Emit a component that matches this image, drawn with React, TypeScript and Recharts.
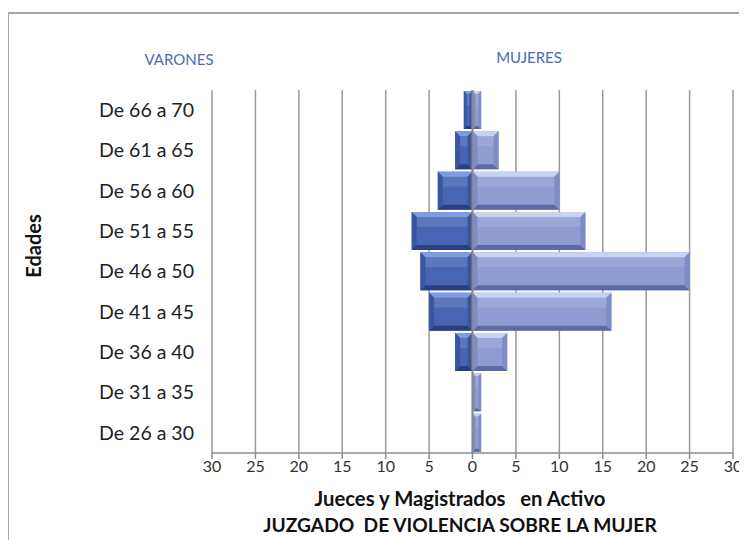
import { BarChart, Bar, XAxis, YAxis, CartesianGrid, ReferenceLine } from 'recharts'

const ageGroups = [
  'De 66 a 70',
  'De 61 a 65',
  'De 56 a 60',
  'De 51 a 55',
  'De 46 a 50',
  'De 41 a 45',
  'De 36 a 40',
  'De 31 a 35',
  'De 26 a 30',
]
// varones shown to the left, so stored as negatives
const varones = [-1, -2, -4, -7, -6, -5, -2, 0, 0]
const mujeres = [1, 3, 10, 13, 25, 16, 4, 1, 1]
const xTicks = [-30, -25, -20, -15, -10, -5, 0, 5, 10, 15, 20, 25, 30]

const data = ageGroups.map((edad, i) => ({ edad, varones: varones[i], mujeres: mujeres[i] }))

const font = 'Lato, "Open Sans", sans-serif'

type Palette = { body: string; top: string; bottom: string; side: string }

const maleColors: Palette = { body: '#4765b2', top: '#7f9be0', bottom: '#2a3f82', side: '#3a56a0' }
const femaleColors: Palette = { body: '#8e9cd1', top: '#c8d2f2', bottom: '#5c6ba8', side: '#7e8dc6' }

function bevelShape(c: Palette) {
  return (props: any) => {
    const { x, y, width, height } = props
    if (!width || !height) return <g />
    const x0 = Math.min(x, x + width)
    const w = Math.abs(width)
    const y0 = Math.min(y, y + height)
    const h = Math.abs(height)
    const b = Math.min(5, w / 3, h / 3)
    return (
      <g>
        <rect x={x0} y={y0} width={w} height={h} fill={c.body} />
        <polygon points={`${x0},${y0} ${x0 + w},${y0} ${x0 + w - b},${y0 + b} ${x0 + b},${y0 + b}`} fill={c.top} />
        <polygon points={`${x0},${y0 + h} ${x0 + w},${y0 + h} ${x0 + w - b},${y0 + h - b} ${x0 + b},${y0 + h - b}`} fill={c.bottom} />
        <polygon points={`${x0},${y0} ${x0 + b},${y0 + b} ${x0 + b},${y0 + h - b} ${x0},${y0 + h}`} fill={c.side} />
        <polygon points={`${x0 + w},${y0} ${x0 + w - b},${y0 + b} ${x0 + w - b},${y0 + h - b} ${x0 + w},${y0 + h}`} fill={c.side} />
        <rect x={x0 + b} y={y0 + b} width={Math.max(0, w - 2 * b)} height={Math.max(0, (h - 2 * b) * 0.35)} fill="#ffffff" opacity={0.12} />
      </g>
    )
  }
}

export default function App() {
  return (
    <div style={{ position: 'relative', width: 739, height: 532, overflow: 'hidden', fontFamily: font }}>
      <div
        style={{
          position: 'absolute',
          left: -1,
          top: 4,
          width: 800,
          height: 600,
          borderTop: '2px solid #a6a6a6',
          borderLeft: '2px solid #a6a6a6',
        }}
      />
      <div style={{ position: 'absolute', left: 121, top: 42, width: 100, textAlign: 'center', fontSize: 15, color: '#4a6db3' }}>
        VARONES
      </div>
      <div style={{ position: 'absolute', left: 471, top: 40, width: 100, textAlign: 'center', fontSize: 15, color: '#4a6db3' }}>
        MUJERES
      </div>
      <div
        style={{
          position: 'absolute',
          left: 25,
          top: 238,
          transform: 'translate(-50%, -50%) rotate(-90deg)',
          fontSize: 20,
          fontWeight: 'bold',
          color: '#111',
        }}
      >
        Edades
      </div>
      <BarChart
        width={739}
        height={532}
        data={data}
        layout="vertical"
        stackOffset="sign"
        barCategoryGap={1}
        margin={{ top: 82, right: 14, bottom: 57, left: 0 }}
        style={{ position: 'absolute', left: 0, top: 0 }}
      >
        <CartesianGrid horizontal={false} stroke="#9a9a9a" strokeWidth={1.5} />
        <XAxis
          type="number"
          domain={[-30, 30]}
          ticks={xTicks}
          tickFormatter={(v: number) => String(Math.abs(v))}
          stroke="#8c8c8c"
          strokeWidth={1.5}
          tickSize={6}
          tick={{ fill: '#333', fontSize: 16, fontFamily: font }}
          height={30}
        />
        <YAxis
          type="category"
          dataKey="edad"
          width={204}
          axisLine={false}
          tickLine={false}
          tickSize={0}
          tickMargin={18}
          tick={{ fill: '#222', fontSize: 19.5, fontFamily: font }}
        />
        <Bar dataKey="varones" stackId="a" isAnimationActive={false} shape={bevelShape(maleColors)} />
        <Bar dataKey="mujeres" stackId="a" isAnimationActive={false} shape={bevelShape(femaleColors)} />
        <ReferenceLine x={0} stroke="#8a8a8a" strokeWidth={2} />
      </BarChart>
      <div
        style={{
          position: 'absolute',
          left: 202,
          top: 478,
          width: 500,
          textAlign: 'center',
          fontSize: 20.3,
          fontWeight: 'bold',
          color: '#111',
          whiteSpace: 'pre',
        }}
      >
        {'Jueces y Magistrados   en Activo'}
      </div>
      <div
        style={{
          position: 'absolute',
          left: 152,
          top: 505,
          width: 600,
          textAlign: 'center',
          fontSize: 19.2,
          fontWeight: 'bold',
          color: '#111',
          whiteSpace: 'pre',
        }}
      >
        {'JUZGADO  DE VIOLENCIA SOBRE LA MUJER'}
      </div>
    </div>
  )
}
